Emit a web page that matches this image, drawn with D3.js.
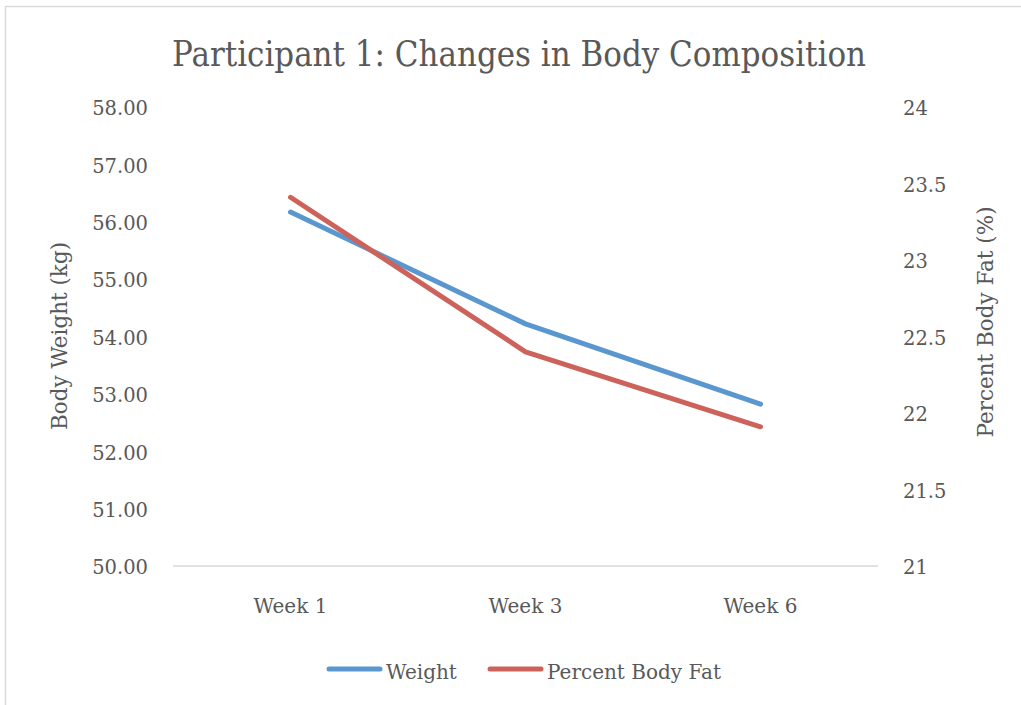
<!DOCTYPE html>
<html>
<head>
<meta charset="utf-8">
<script src="https://cdn.jsdelivr.net/npm/d3@7.9.0/dist/d3.min.js"></script>
<style>
  html, body { margin: 0; padding: 0; background: #fff; }
  svg text { font-family: 'DejaVu Serif', 'Liberation Serif', serif; fill: #595959; }
</style>
</head>
<body>
<svg id="chart" width="1021" height="705"></svg>
<script>
const weeks = ['Week 1', 'Week 3', 'Week 6'];
const weight = [56.17, 54.22, 52.82];
const bodyFat = [23.41, 22.4, 21.91];
const weightTicks = [50, 51, 52, 53, 54, 55, 56, 57, 58];
const fatTicks = [21, 21.5, 22, 22.5, 23, 23.5, 24];
const seriesNames = ['Weight', 'Percent Body Fat'];

const svg = d3.select('#chart');
const width = 1021, height = 705;
const plot = { left: 173, right: 878, top: 107, bottom: 566 };
const blue = '#5b97cf', red = '#cd625a';

// chart border (the frame runs off the right and bottom edges)
svg.append('path')
  .attr('d', `M5.5,${height + 2}V6.5H${width + 2}`)
  .attr('fill', 'none')
  .attr('stroke', '#d9d9d9')
  .attr('stroke-width', 1.5);

const x = d3.scaleBand().domain(weeks).range([plot.left, plot.right]);
const yL = d3.scaleLinear().domain([50, 58]).range([plot.bottom, plot.top]);
const yR = d3.scaleLinear().domain([21, 24]).range([plot.bottom, plot.top]);

// title
svg.append('text')
  .attr('x', 519)
  .attr('y', 66)
  .attr('text-anchor', 'middle')
  .attr('font-size', 36)
  .attr('textLength', 694)
  .attr('lengthAdjust', 'spacingAndGlyphs')
  .text('Participant 1: Changes in Body Composition');

// left axis
const leftAxis = svg.append('g')
  .attr('transform', `translate(${plot.left},0)`)
  .call(d3.axisLeft(yL).tickValues(weightTicks).tickFormat(d3.format('.2f')).tickSize(0).tickPadding(25));
leftAxis.select('.domain').remove();
leftAxis.selectAll('text').attr('font-size', 19.5).attr('dy', '0.4em');

// right axis
const rightAxis = svg.append('g')
  .attr('transform', `translate(${plot.right},0)`)
  .call(d3.axisRight(yR).tickValues(fatTicks).tickFormat(d3.format('')).tickSize(0).tickPadding(25));
rightAxis.select('.domain').remove();
rightAxis.selectAll('text').attr('font-size', 19.5).attr('dy', '0.4em');

// baseline
svg.append('line')
  .attr('x1', plot.left).attr('x2', plot.right)
  .attr('y1', plot.bottom).attr('y2', plot.bottom)
  .attr('stroke', '#d9d9d9').attr('stroke-width', 1.5);

// x axis labels
const bottomAxis = svg.append('g')
  .attr('transform', `translate(0,${plot.bottom})`)
  .call(d3.axisBottom(x).tickSize(0).tickPadding(0));
bottomAxis.select('.domain').remove();
bottomAxis.selectAll('text').attr('font-size', 20).attr('dy', null).attr('y', 47);

// axis titles
svg.append('text')
  .attr('transform', `translate(67,336) rotate(-90)`)
  .attr('text-anchor', 'middle')
  .attr('font-size', 21.5)
  .text('Body Weight (kg)');

svg.append('text')
  .attr('transform', `translate(993,322) rotate(-90)`)
  .attr('text-anchor', 'middle')
  .attr('font-size', 21.5)
  .text('Percent Body Fat (%)');

// lines
const cx = d => x(d) + x.bandwidth() / 2;
const lineL = d3.line().x((d, i) => cx(weeks[i])).y(d => yL(d));
const lineR = d3.line().x((d, i) => cx(weeks[i])).y(d => yR(d));

svg.append('path')
  .datum(weight)
  .attr('d', lineL)
  .attr('fill', 'none')
  .attr('stroke', blue)
  .attr('stroke-width', 5)
  .attr('stroke-linecap', 'round')
  .attr('stroke-linejoin', 'round');

svg.append('path')
  .datum(bodyFat)
  .attr('d', lineR)
  .attr('fill', 'none')
  .attr('stroke', red)
  .attr('stroke-width', 5)
  .attr('stroke-linecap', 'round')
  .attr('stroke-linejoin', 'round');

// legend
const legend = [
  { name: seriesNames[0], color: blue, x: 329 },
  { name: seriesNames[1], color: red, x: 490 }
];
const lg = svg.append('g').selectAll('g').data(legend).join('g')
  .attr('transform', d => `translate(${d.x},669)`);
lg.append('line')
  .attr('x1', 0).attr('x2', 51)
  .attr('stroke', d => d.color)
  .attr('stroke-width', 5)
  .attr('stroke-linecap', 'round');
lg.append('text')
  .attr('x', 57)
  .attr('y', 10)
  .attr('font-size', 20)
  .text(d => d.name);
</script>
</body>
</html>
